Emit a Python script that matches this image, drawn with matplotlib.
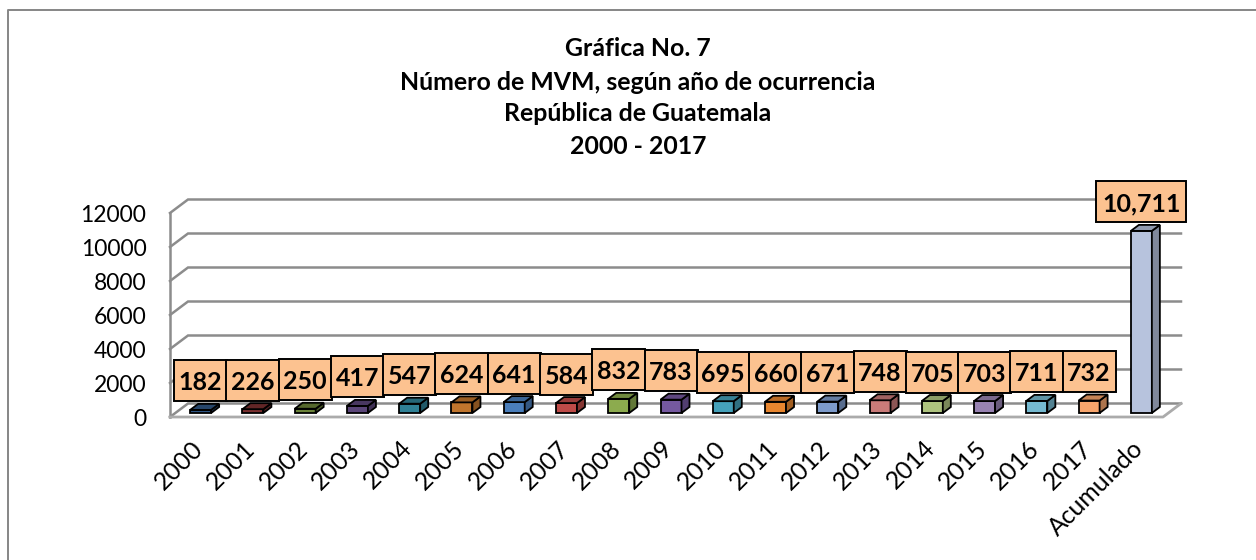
import matplotlib
matplotlib.use("Agg")
import matplotlib.pyplot as plt
from matplotlib.lines import Line2D
from matplotlib.patches import Polygon, Rectangle
from matplotlib.colors import to_rgb
from matplotlib.transforms import Affine2D

categories = ["2000", "2001", "2002", "2003", "2004", "2005", "2006", "2007", "2008",
              "2009", "2010", "2011", "2012", "2013", "2014", "2015", "2016", "2017",
              "Acumulado"]
values = [182, 226, 250, 417, 547, 624, 641, 584, 832, 783, 695, 660, 671, 748, 705,
          703, 711, 732, 10711]
value_labels = ["182", "226", "250", "417", "547", "624", "641", "584", "832", "783",
                "695", "660", "671", "748", "705", "703", "711", "732", "10,711"]
bar_colors = ["#2F5685", "#7A3030", "#6A8238", "#5A4578", "#2F8196", "#C0752D",
              "#4A7EBB", "#BE4B48", "#8CAB4E", "#7559A0", "#45A1BA", "#E8862F",
              "#7D9BCB", "#C97B79", "#AEC37F", "#9883B2", "#75B9D0", "#F7A56C",
              "#B7C3DD"]
title_lines = ["Gráfica No. 7", "Número de MVM, según año de ocurrencia",
               "República de Guatemala", "2000 - 2017"]
title_y = [48, 82, 114, 147]
y_ticks = [0, 2000, 4000, 6000, 8000, 10000, 12000]

W, H = 1256, 560
plt.rcParams["font.family"] = ["Lato", "DejaVu Sans"]

fig = plt.figure(figsize=(W / 100, H / 100), dpi=100)
# only the top and left of the outer frame are inside the picture
fig.add_artist(Line2D([8 / W, 8 / W, 1], [0, 1 - 10 / H, 1 - 10 / H], transform=fig.transFigure,
                      c="#868686", lw=1.4))

ax = fig.add_axes([170 / W, 1 - 417 / H, 993 / W, 204 / H])
ax.set_xlim(-0.5, 18.5)
ax.set_ylim(0, 12000)
ax.patch.set_visible(False)
for s in ax.spines.values():
    s.set_visible(False)

# pixels to data units, for the fake 3d depth
px_x = 19 / 993
px_y = 12000 / 204
back_x, back_y = 18 * px_x, 13.5 * px_y
bar_x, bar_y = 4.5 * px_x, 4 * px_y
depth_x, depth_y = 8 * px_x, 6 * px_y
bar_w = 21 * px_x

grid_c = "#8C8C8C"
for v in y_ticks:
    ax.plot([-0.5, -0.5 + back_x, 18.5 + back_x], [v, v + back_y, v + back_y],
            c=grid_c, lw=1.8, clip_on=False, zorder=1, solid_joinstyle="miter")
ax.plot([-0.5, -0.5], [0, 12000], c=grid_c, lw=1.8, clip_on=False, zorder=1)
ax.plot([-0.5, 18.5, 18.5 + back_x], [0, 0, back_y], c="#ABABAB", lw=2, clip_on=False, zorder=1)

for i, (v, c) in enumerate(zip(values, bar_colors)):
    x0 = i - bar_w / 2 + bar_x
    x1 = x0 + bar_w
    y0 = bar_y
    y1 = bar_y + v
    rgb = to_rgb(c)
    side = tuple(k * 0.7 for k in rgb)
    top = tuple(k * 0.8 for k in rgb)
    ax.bar(i + bar_x, v, width=bar_w, bottom=bar_y, color=c, ec="black", lw=1.3, zorder=3,
           clip_on=False)
    ax.add_patch(Polygon([(x1, y0), (x1 + depth_x, y0 + depth_y), (x1 + depth_x, y1 + depth_y), (x1, y1)],
                         fc=side, ec="black", lw=1.3, zorder=3, clip_on=False))
    ax.add_patch(Polygon([(x0, y1), (x0 + depth_x, y1 + depth_y), (x1 + depth_x, y1 + depth_y), (x1, y1)],
                         fc=top, ec="black", lw=1.3, zorder=3, clip_on=False))
    # label box sits just above the bar
    box_w = (53 if len(value_labels[i]) == 3 else 90) * px_x
    box_h = 41 * px_y
    box_y = y1 + depth_y + 2.5 * px_y
    ax.add_patch(Rectangle((i + bar_x - box_w / 2, box_y), box_w, box_h, fc="#FCC290", ec="black",
                           lw=1.4, zorder=4 + i * 0.01, clip_on=False))
    ax.text(i + bar_x, box_y + box_h / 2, value_labels[i], ha="center", va="center_baseline",
            fontsize=18, fontweight="bold", zorder=4.5 + i * 0.01, clip_on=False)

ax.set_xticks(range(len(categories)), labels=categories, rotation=45, ha="right",
              rotation_mode="anchor", fontsize=17.8)
ax.set_yticks(y_ticks)
ax.tick_params(axis="both", length=0)
ax.tick_params(axis="x", pad=14)
ax.tick_params(axis="y", pad=17, labelsize=16.5)
for lab in ax.get_xticklabels():
    lab.set_transform(lab.get_transform() + Affine2D().translate(-5, 0))
for lab in ax.get_yticklabels():
    lab.set_transform(lab.get_transform() + Affine2D().translate(0, -1))

for line, y in zip(title_lines, title_y):
    fig.text(638 / W, 1 - y / H, line, ha="center", va="center", fontsize=17.95, fontweight="bold")

fig.savefig("out.png", dpi=100)
